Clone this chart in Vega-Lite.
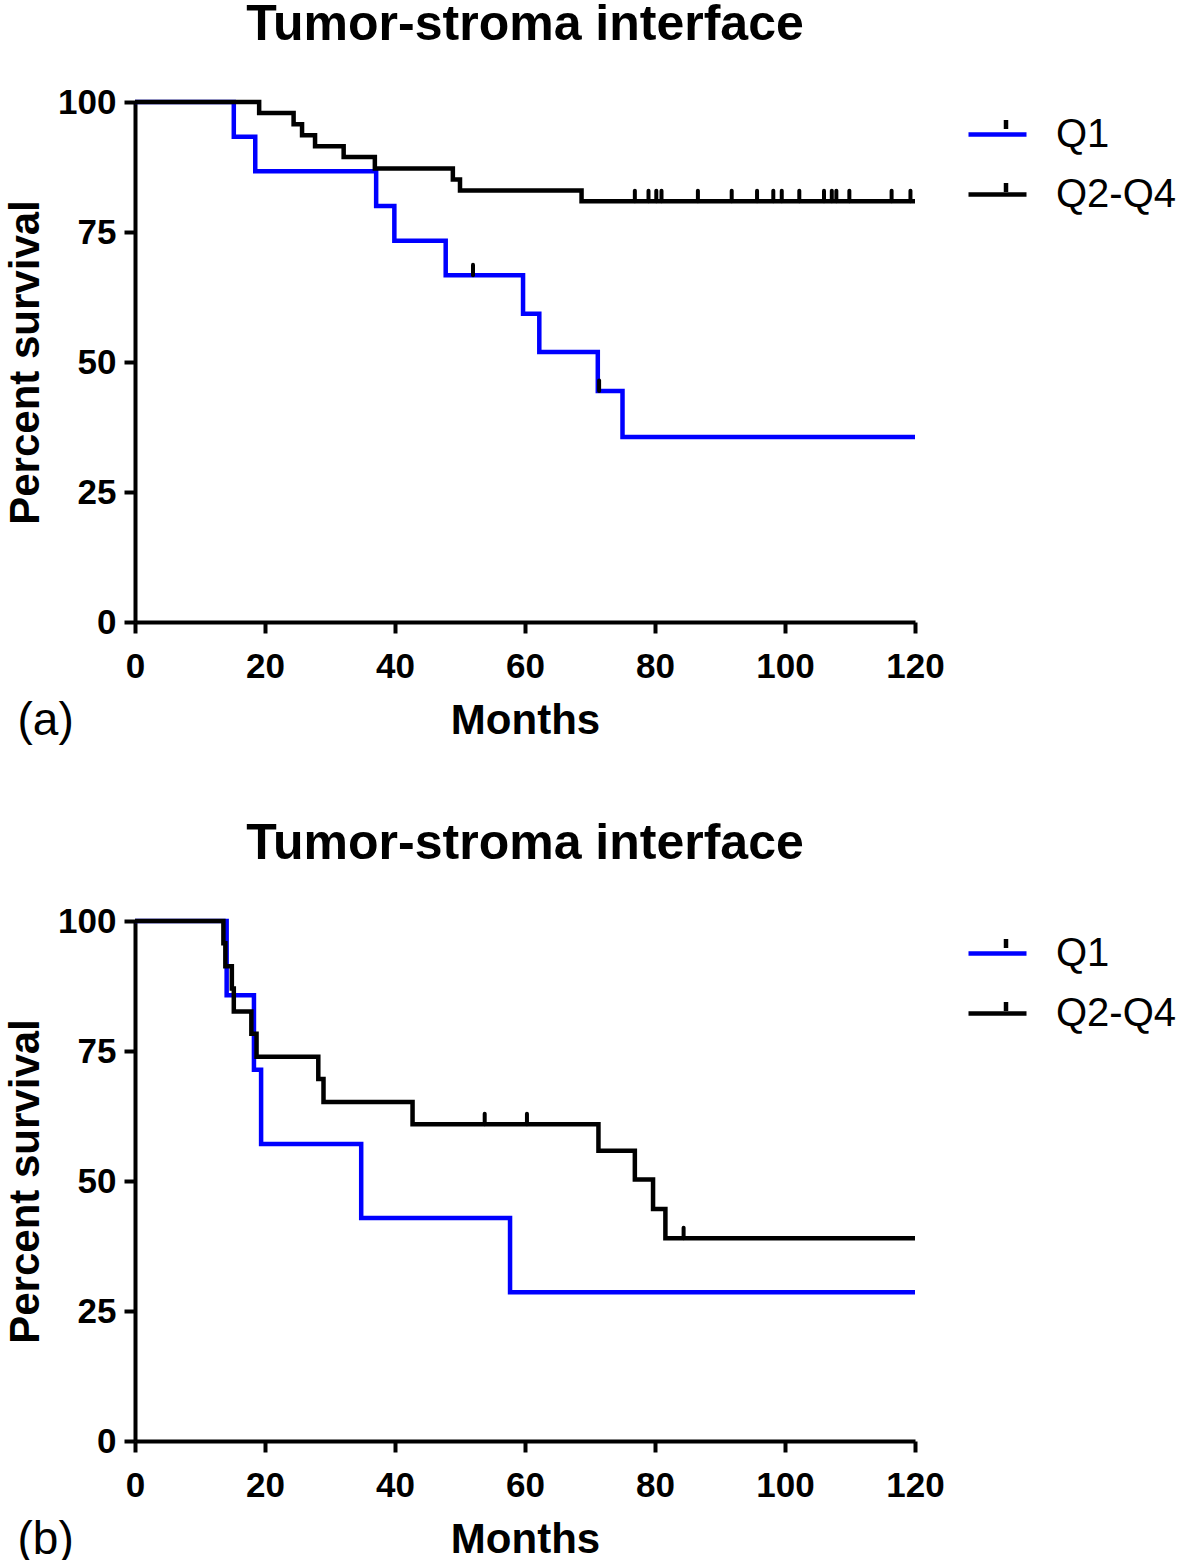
{
  "$schema": "https://vega.github.io/schema/vega-lite/v6.json",
  "background": "white",
  "padding": {"left": 4, "top": 0, "right": 0, "bottom": 0},
  "spacing": 76,
  "datasets": {
    "curves_a": [
      {"group": "Q1", "t": 0, "s": 100},
      {"group": "Q1", "t": 15.2, "s": 93.3},
      {"group": "Q1", "t": 18.5, "s": 86.7},
      {"group": "Q1", "t": 37.1, "s": 80.0},
      {"group": "Q1", "t": 39.9, "s": 73.3},
      {"group": "Q1", "t": 47.8, "s": 66.7},
      {"group": "Q1", "t": 59.7, "s": 59.3},
      {"group": "Q1", "t": 62.2, "s": 51.9},
      {"group": "Q1", "t": 71.2, "s": 44.4},
      {"group": "Q1", "t": 75.0, "s": 35.6},
      {"group": "Q1", "t": 120, "s": 35.6},
      {"group": "Q2-Q4", "t": 0, "s": 100},
      {"group": "Q2-Q4", "t": 19.1, "s": 97.9},
      {"group": "Q2-Q4", "t": 24.4, "s": 95.7},
      {"group": "Q2-Q4", "t": 25.7, "s": 93.6},
      {"group": "Q2-Q4", "t": 27.7, "s": 91.5},
      {"group": "Q2-Q4", "t": 32.1, "s": 89.4},
      {"group": "Q2-Q4", "t": 36.9, "s": 87.2},
      {"group": "Q2-Q4", "t": 48.9, "s": 85.1},
      {"group": "Q2-Q4", "t": 50.0, "s": 83.0},
      {"group": "Q2-Q4", "t": 68.7, "s": 80.9},
      {"group": "Q2-Q4", "t": 120, "s": 80.9}
    ],
    "censor_a": [
      {"arm": "Q1", "t": 52.0, "s": 66.7},
      {"arm": "Q1", "t": 71.4, "s": 44.4},
      {"arm": "Q2-Q4", "t": 76.9, "s": 80.9},
      {"arm": "Q2-Q4", "t": 79.0, "s": 80.9},
      {"arm": "Q2-Q4", "t": 80.2, "s": 80.9},
      {"arm": "Q2-Q4", "t": 81.0, "s": 80.9},
      {"arm": "Q2-Q4", "t": 86.6, "s": 80.9},
      {"arm": "Q2-Q4", "t": 91.8, "s": 80.9},
      {"arm": "Q2-Q4", "t": 95.7, "s": 80.9},
      {"arm": "Q2-Q4", "t": 98.2, "s": 80.9},
      {"arm": "Q2-Q4", "t": 99.5, "s": 80.9},
      {"arm": "Q2-Q4", "t": 102.2, "s": 80.9},
      {"arm": "Q2-Q4", "t": 106.0, "s": 80.9},
      {"arm": "Q2-Q4", "t": 107.2, "s": 80.9},
      {"arm": "Q2-Q4", "t": 107.9, "s": 80.9},
      {"arm": "Q2-Q4", "t": 109.9, "s": 80.9},
      {"arm": "Q2-Q4", "t": 116.4, "s": 80.9},
      {"arm": "Q2-Q4", "t": 119.3, "s": 80.9}
    ],
    "curves_b": [
      {"group": "Q1", "t": 0, "s": 100},
      {"group": "Q1", "t": 14.1, "s": 85.7},
      {"group": "Q1", "t": 18.3, "s": 71.4},
      {"group": "Q1", "t": 19.4, "s": 57.1},
      {"group": "Q1", "t": 34.8, "s": 42.9},
      {"group": "Q1", "t": 57.7, "s": 28.6},
      {"group": "Q1", "t": 120, "s": 28.6},
      {"group": "Q2-Q4", "t": 0, "s": 100},
      {"group": "Q2-Q4", "t": 13.6, "s": 95.7},
      {"group": "Q2-Q4", "t": 13.9, "s": 91.3},
      {"group": "Q2-Q4", "t": 14.9, "s": 87.0},
      {"group": "Q2-Q4", "t": 15.2, "s": 82.6},
      {"group": "Q2-Q4", "t": 17.9, "s": 78.3},
      {"group": "Q2-Q4", "t": 18.7, "s": 73.9},
      {"group": "Q2-Q4", "t": 28.2, "s": 69.6},
      {"group": "Q2-Q4", "t": 29.0, "s": 65.2},
      {"group": "Q2-Q4", "t": 42.7, "s": 60.9},
      {"group": "Q2-Q4", "t": 71.3, "s": 55.8},
      {"group": "Q2-Q4", "t": 76.9, "s": 50.3},
      {"group": "Q2-Q4", "t": 79.7, "s": 44.6},
      {"group": "Q2-Q4", "t": 81.6, "s": 39.0},
      {"group": "Q2-Q4", "t": 120, "s": 39.0}
    ],
    "censor_b": [
      {"arm": "Q2-Q4", "t": 53.8, "s": 60.9},
      {"arm": "Q2-Q4", "t": 60.3, "s": 60.9},
      {"arm": "Q2-Q4", "t": 84.4, "s": 39.0}
    ]
  },
  "config": {
    "view": {"stroke": null},
    "font": "Liberation Sans",
    "title": {"font": "Liberation Sans", "fontSize": 50, "fontWeight": "bold", "color": "#000", "anchor": "middle", "frame": "group", "offset": 35},
    "axis": {
      "grid": false,
      "domainColor": "#000", "domainWidth": 4,
      "tickColor": "#000", "tickWidth": 4, "tickSize": 11,
      "labelFont": "Liberation Sans", "labelFontSize": 35, "labelFontWeight": "bold", "labelColor": "#000",
      "titleFont": "Liberation Sans", "titleFontSize": 42, "titleFontWeight": "bold", "titleColor": "#000"
    },
    "legend": {
      "labelFont": "Liberation Sans", "labelFontSize": 40, "labelColor": "#000", "labelFontWeight": "normal"
    }
  },
  "resolve": {"legend": {"color": "independent", "shape": "independent"}},
  "vconcat": [
    {
      "title": "Tumor-stroma interface",
      "width": 780, "height": 520,
      "resolve": {"axis": {"x": "independent"}},
      "layer": [
        {
          "data": {"name": "curves_a"},
          "mark": {"type": "line", "interpolate": "step-after", "strokeWidth": 4.5, "strokeJoin": "miter", "clip": false},
          "encoding": {
            "x": {"field": "t", "type": "quantitative", "scale": {"domain": [0, 120], "nice": false},
                  "axis": {"title": "Months", "values": [0, 20, 40, 60, 80, 100, 120], "labelPadding": 16, "titlePadding": 16, "labelFlush": false}},
            "y": {"field": "s", "type": "quantitative", "scale": {"domain": [0, 100], "nice": false},
                  "axis": {"title": "Percent survival", "values": [0, 25, 50, 75, 100], "labelPadding": 8, "titlePadding": 10, "labelFlush": false}},
            "color": {"field": "group", "type": "nominal",
                      "scale": {"range": ["#0000ff", "#000000"]},
                      "legend": {"title": null, "orient": "none", "legendX": 831, "legendY": 1,
                                 "symbolType": "M-1,0H1", "symbolSize": 3364, "symbolStrokeWidth": 4.5,
                                 "labelOffset": 27, "rowPadding": 8, "padding": 0}}
          }
        },
        {
          "data": {"name": "censor_a"},
          "mark": {"type": "point", "filled": false, "stroke": "#000", "strokeWidth": 4, "strokeCap": "round", "size": 441, "opacity": 1, "clip": false},
          "encoding": {
            "x": {"field": "t", "type": "quantitative",
                  "axis": {"orient": "bottom", "title": "(a)", "labels": false, "ticks": false, "domain": false,
                           "titleAnchor": "start", "titleX": -118, "titleY": 98, "titleBaseline": "middle",
                           "titleFontWeight": "normal", "titleFontSize": 46}},
            "y": {"field": "s", "type": "quantitative"},
            "shape": {"field": "arm", "type": "nominal",
                      "scale": {"domain": ["Q1", "Q2-Q4"], "range": ["M0,-1V0", "M0,-1V0"]},
                      "legend": {"title": null, "orient": "none", "legendX": 851, "legendY": 7,
                                 "symbolSize": 324, "symbolStrokeWidth": 4.5, "symbolStrokeColor": "#000", "symbolFillColor": "transparent", "symbolOpacity": 1,
                                 "labelOffset": 67, "rowPadding": 23, "padding": 0, "labelOpacity": 0}}
          }
        }
      ]
    },
    {
      "title": "Tumor-stroma interface",
      "width": 780, "height": 520,
      "resolve": {"axis": {"x": "independent"}},
      "layer": [
        {
          "data": {"name": "curves_b"},
          "mark": {"type": "line", "interpolate": "step-after", "strokeWidth": 4.5, "strokeJoin": "miter", "clip": false},
          "encoding": {
            "x": {"field": "t", "type": "quantitative", "scale": {"domain": [0, 120], "nice": false},
                  "axis": {"title": "Months", "values": [0, 20, 40, 60, 80, 100, 120], "labelPadding": 16, "titlePadding": 16, "labelFlush": false}},
            "y": {"field": "s", "type": "quantitative", "scale": {"domain": [0, 100], "nice": false},
                  "axis": {"title": "Percent survival", "values": [0, 25, 50, 75, 100], "labelPadding": 8, "titlePadding": 10, "labelFlush": false}},
            "color": {"field": "group", "type": "nominal",
                      "scale": {"range": ["#0000ff", "#000000"]},
                      "legend": {"title": null, "orient": "none", "legendX": 831, "legendY": 1,
                                 "symbolType": "M-1,0H1", "symbolSize": 3364, "symbolStrokeWidth": 4.5,
                                 "labelOffset": 27, "rowPadding": 8, "padding": 0}}
          }
        },
        {
          "data": {"name": "censor_b"},
          "mark": {"type": "point", "filled": false, "stroke": "#000", "strokeWidth": 4, "strokeCap": "round", "size": 441, "opacity": 1, "clip": false},
          "encoding": {
            "x": {"field": "t", "type": "quantitative",
                  "axis": {"orient": "bottom", "title": "(b)", "labels": false, "ticks": false, "domain": false,
                           "titleAnchor": "start", "titleX": -118, "titleY": 98, "titleBaseline": "middle",
                           "titleFontWeight": "normal", "titleFontSize": 46}},
            "y": {"field": "s", "type": "quantitative"},
            "shape": {"field": "arm", "type": "nominal",
                      "scale": {"domain": ["Q1", "Q2-Q4"], "range": ["M0,-1V0", "M0,-1V0"]},
                      "legend": {"title": null, "orient": "none", "legendX": 851, "legendY": 7,
                                 "symbolSize": 324, "symbolStrokeWidth": 4.5, "symbolStrokeColor": "#000", "symbolFillColor": "transparent", "symbolOpacity": 1,
                                 "labelOffset": 67, "rowPadding": 23, "padding": 0, "labelOpacity": 0}}
          }
        }
      ]
    }
  ]
}
